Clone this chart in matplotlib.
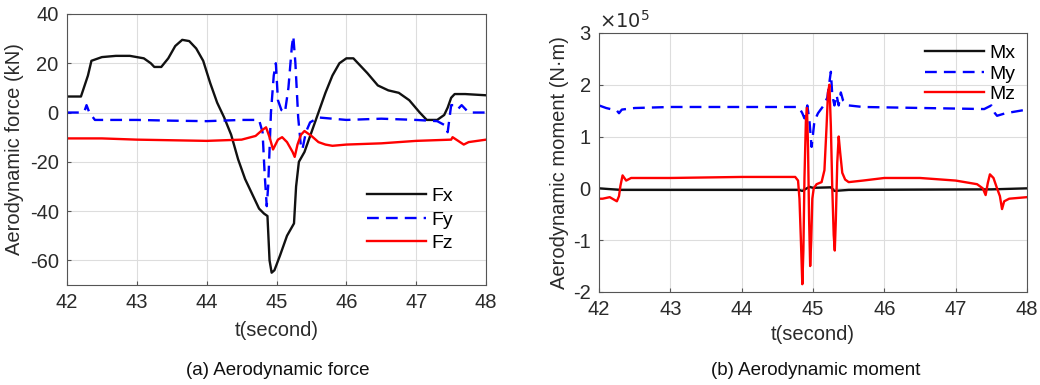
import matplotlib
matplotlib.use("Agg")
import matplotlib.pyplot as plt

plt.rcParams['font.family'] = ['Liberation Sans', 'DejaVu Sans']
plt.rcParams['axes.unicode_minus'] = False

# ---- (a) aerodynamic force, kN ----
t_fx = [42.0, 42.2, 42.3, 42.35, 42.5, 42.7, 42.9, 43.1, 43.2, 43.25, 43.35, 43.45, 43.55,
        43.65, 43.75, 43.85, 43.95, 44.05, 44.15, 44.25, 44.35, 44.45, 44.55, 44.65, 44.75,
        44.82, 44.87, 44.9, 44.93, 44.97, 45.05, 45.15, 45.25, 45.28, 45.32, 45.4, 45.5,
        45.6, 45.7, 45.8, 45.9, 46.0, 46.1, 46.2, 46.3, 46.45, 46.6, 46.75, 46.9, 47.05,
        47.15, 47.3, 47.4, 47.45, 47.5, 47.55, 47.7, 48.0]
fx = [6.5, 6.5, 15, 21, 22.5, 23, 23, 22, 20, 18.5, 18.5, 22, 27,
      29.5, 29, 26, 21, 12, 4, -2, -9, -19, -27, -33, -39,
      -41, -42, -60, -65, -64, -58, -50, -45, -30, -20, -16, -8,
      0, 8, 15, 20, 22, 22, 19, 16, 11, 9, 8, 5, 0,
      -3, -3, -1, 2, 6, 7.5, 7.5, 7]

t_fy = [42.0, 42.2, 42.25, 42.28, 42.32, 42.4, 42.6, 43.0, 43.5, 44.0, 44.5, 44.75, 44.8,
        44.83, 44.86, 44.88, 44.92, 44.96, 44.99, 45.02, 45.07, 45.12, 45.17, 45.22, 45.24,
        45.27, 45.31, 45.35, 45.37, 45.42, 45.48, 45.6, 46.0, 46.5, 47.0, 47.3, 47.4,
        47.45, 47.5, 47.55, 47.6, 47.65, 47.75, 48.0]
fy = [0, 0, 0.5, 3, 0, -3, -3, -3, -3.3, -3.5, -3, -3, -8,
      -25, -38, -30, 0, 15, 20, 5, 1, 0, 10, 27, 31,
      20, -2, -14, -15, -8, -4, -2, -3, -2.5, -3, -3.5, -5,
      -8, 3, 3, 1.5, 3, 0, 0]

t_fz = [42.0, 42.5, 43.0, 44.0, 44.5, 44.7, 44.8, 44.85, 44.9, 44.95, 45.02, 45.08, 45.15,
        45.23, 45.26, 45.3, 45.35, 45.4, 45.5, 45.6, 45.7, 45.8, 46.0, 46.5, 47.0, 47.5,
        47.52, 47.6, 47.68, 47.75, 48.0]
fz = [-10.5, -10.5, -11, -11.5, -11, -9.5, -7, -6, -10, -15, -11, -10, -12,
      -16, -18, -13, -9, -7.5, -9.5, -12, -13, -13.5, -13, -12.5, -11.5, -11,
      -10, -11.5, -13, -12, -11]

# ---- (b) aerodynamic moment, x1e5 N.m ----
t_mx = [42.0, 42.3, 44.8, 44.85, 44.95, 45.0, 45.25, 45.3, 45.5, 47.5, 48.0]
mx = [0.0, -0.03, -0.03, -0.05, 0.03, 0.01, 0.02, -0.05, -0.03, -0.02, 0.0]

t_my = [42.0, 42.1, 42.25, 42.28, 42.32, 42.5, 43.0, 44.8, 44.85, 44.88, 44.92, 44.95,
        44.98, 45.02, 45.07, 45.15, 45.2, 45.25, 45.27, 45.3, 45.33, 45.36, 45.39, 45.42,
        45.5, 45.7, 47.4, 47.5, 47.55, 47.58, 47.7, 48.0]
my = [1.6, 1.55, 1.5, 1.45, 1.52, 1.55, 1.57, 1.57, 1.45, 1.35, 1.6, 1.3,
      0.8, 1.3, 1.45, 1.6, 1.75, 2.25, 1.8, 1.6, 1.8, 1.6, 1.85, 1.7,
      1.6, 1.57, 1.53, 1.6, 1.45, 1.4, 1.45, 1.52]

t_mz = [42.0, 42.05, 42.15, 42.25, 42.28, 42.3, 42.33, 42.38, 42.45, 43.0, 44.0, 44.75,
        44.79, 44.81, 44.83, 44.85, 44.865, 44.88, 44.9, 44.915, 44.93, 44.945, 44.96,
        44.975, 44.99, 45.01, 45.05, 45.12, 45.16, 45.19, 45.21, 45.23, 45.25, 45.27,
        45.29, 45.305, 45.32, 45.34, 45.36, 45.38, 45.41, 45.45, 45.5, 45.7, 46.0,
        46.5, 47.0, 47.3, 47.38, 47.42, 47.45, 47.48, 47.53, 47.58, 47.62, 47.65, 47.68,
        47.75, 48.0]
mz = [-0.2, -0.2, -0.17, -0.25, -0.15, 0.05, 0.25, 0.15, 0.2, 0.2, 0.22, 0.22,
      0.15, -0.2, -1.0, -1.85, -1.2, 0.2, 1.3, 1.55, 0.8, -0.6, -1.5,
      -1.0, -0.2, 0.0, 0.08, 0.12, 0.35, 1.2, 1.85, 2.0, 1.2, 0.0,
      -0.9, -1.2, -0.6, 0.5, 1.0, 0.7, 0.3, 0.17, 0.12, 0.15, 0.2,
      0.2, 0.15, 0.08, 0.0, -0.13, 0.1, 0.27, 0.2, 0.0, -0.15, -0.4, -0.25,
      -0.2, -0.17]

xticks = [42, 43, 44, 45, 46, 47, 48]

fig = plt.figure(figsize=(10.4, 3.85), dpi=100)
ax1 = fig.add_axes([0.0644, 0.2597, 0.403, 0.704])
ax2 = fig.add_axes([0.576, 0.2416, 0.4115, 0.673])

tick_color = '#2a2a2a'
for ax in (ax1, ax2):
    ax.grid(True, color='#dddddd', linewidth=0.8)
    ax.set_axisbelow(True)
    for s in ax.spines.values():
        s.set_color('#555555')
        s.set_linewidth(0.8)
    ax.tick_params(direction='in', length=3, labelsize=14.5, colors='#555555',
                   labelcolor=tick_color, pad=6)
    ax.set_xlim(42, 48)
    ax.set_xticks(xticks)

ax1.plot(t_fx, fx, color='#111111', lw=1.7, label='Fx')
ax1.plot(t_fy, fy, color='#0000ff', lw=1.7, ls=(0, (5, 3)), label='Fy')
ax1.plot(t_fz, fz, color='#ff0000', lw=1.7, label='Fz')
ax1.set_ylim(-70, 40)
ax1.set_yticks([-60, -40, -20, 0, 20, 40])
ax1.set_xlabel('t(second)', fontsize=14.5, color=tick_color, labelpad=6)
ax1.set_ylabel('Aerodynamic force (kN)', fontsize=14.5, color=tick_color, labelpad=4)
ax1.legend(loc='lower right', frameon=False, fontsize=14, handlelength=3.0,
           labelspacing=0.3, handletextpad=0.3, borderaxespad=1.3)

ax2.plot(t_mx, mx, color='#111111', lw=1.7, label='Mx')
ax2.plot(t_my, my, color='#0000ff', lw=1.7, ls=(0, (5, 3)), label='My')
ax2.plot(t_mz, mz, color='#ff0000', lw=1.7, label='Mz')
ax2.set_ylim(-2, 3)
ax2.set_yticks([-2, -1, 0, 1, 2, 3])
ax2.set_xlabel('t(second)', fontsize=14.5, color=tick_color, labelpad=4)
ax2.set_ylabel('Aerodynamic moment (N\u00b7m)', fontsize=14.5, color=tick_color, labelpad=3)
ax2.text(0.0, 1.003, r'$\times10^5$', transform=ax2.transAxes, fontsize=14,
         color=tick_color, ha='left', va='bottom')
ax2.legend(loc='upper right', frameon=False, fontsize=14, handlelength=3.0,
           labelspacing=0.15, handletextpad=0.3, borderaxespad=0.2)

fig.text(0.267, 0.025, '(a) Aerodynamic force', fontsize=13.5, ha='center', color='#111111')
fig.text(0.784, 0.025, '(b) Aerodynamic moment', fontsize=13.5, ha='center', color='#111111')

fig.savefig('out.png', dpi=100)
